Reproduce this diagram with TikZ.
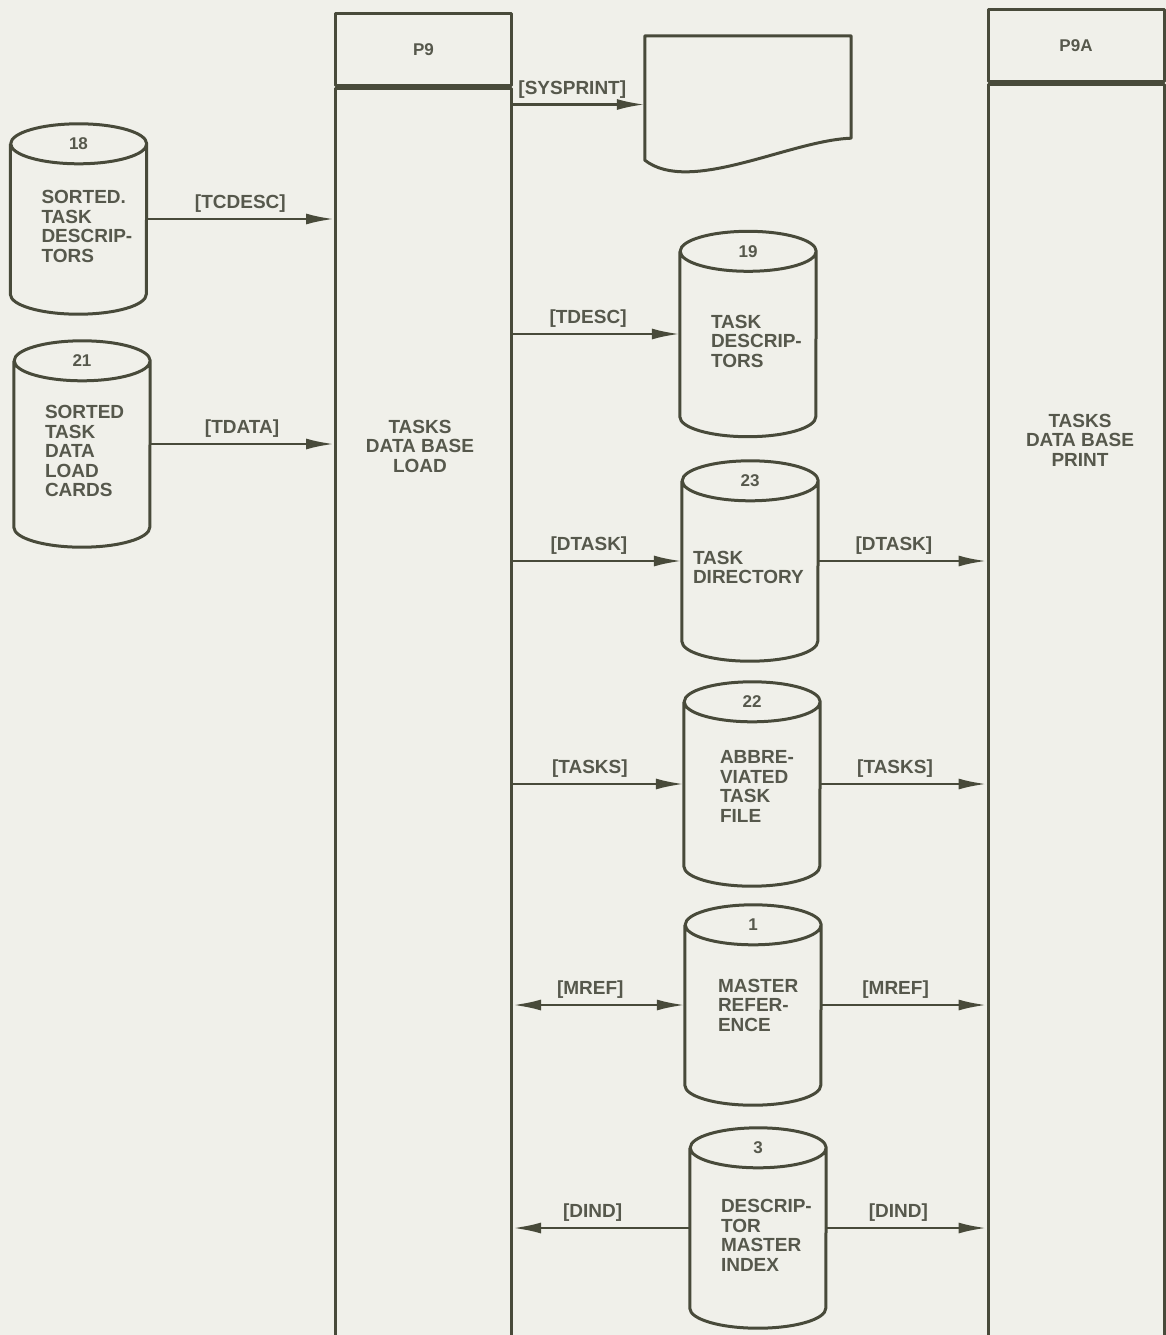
\documentclass[tikz,border=0pt]{standalone}
\usepackage{fontspec}
\setmainfont{Liberation Sans}
\usetikzlibrary{arrows.meta}

\definecolor{ink}{RGB}{72,74,58}
\definecolor{letter}{RGB}{86,88,76}
\definecolor{paper}{RGB}{240,240,234}
\exhyphenpenalty=10000

\begin{document}
\begin{tikzpicture}[
  x=1pt, y=-1pt,
  >={Latex[length=28pt,width=11pt]},
  wire/.style={draw=ink,line width=3pt,line join=round},
  arr/.style={->,draw=ink,line width=2.6pt},
  twoway/.style={<->,draw=ink,line width=2.6pt},
  head/.style={rectangle,wire,minimum width=176pt,minimum height=72pt,inner sep=0pt,text=letter,font=\bfseries\fontsize{17}{19}\selectfont},
  body/.style={rectangle,wire,minimum width=176pt,inner sep=0pt,anchor=north},
  title/.style={align=center,inner sep=0pt,text=letter,font=\bfseries\fontsize{19}{19.5}\selectfont},
  store/.style={rectangle,minimum width=136pt,text width=74pt,text height=28pt,align=left,inner sep=0pt,text=letter,font=\bfseries\fontsize{19}{19.5}\selectfont},
  num/.style={inner sep=0pt,text=letter,font=\bfseries\fontsize{17}{19}\selectfont},
  lbl/.style={above=5pt,pos=0.45,inner sep=0pt,text=letter,font=\bfseries\fontsize{19}{19}\selectfont}
]
\useasboundingbox[fill=paper] (0,0) rectangle (1166,1335);

% programs
\node[head] (p9) at (423.5,50) {P9};
\node[body,minimum height=1260pt] (load) at (p9.south) {};
\node[title] (loadtxt) at (420,446) {TASKS\\DATA BASE\\LOAD};
\node[head] (p9a) at (1076,46) {P9A};
\node[body,minimum height=1265pt] (print) at (p9a.south) {};
\node[title] (printtxt) at (1080,440) {TASKS\\DATA BASE\\PRINT};

% files
\node[store,minimum height=190pt] (s18) at (78.5,219) {SORTED.\\TASK\\DESCRIP-\\TORS};
\node[store,minimum height=206pt] (s21) at (82,444) {SORTED\\TASK\\DATA\\LOAD\\CARDS};
\node[store,minimum height=205pt] (s19) at (748,334) {TASK\\DESCRIP-\\TORS};
\node[store,minimum height=200pt,text width=114pt,text height=26pt] (s23) at (750,561) {TASK\\DIRECTORY};
\node[store,minimum height=204pt,text height=18pt,text width=64pt] (s22) at (752,784) {ABBRE-\\VIATED\\TASK\\FILE};
\node[store,minimum height=200pt,text height=14pt,text width=70pt] (s1) at (753,1005) {MASTER\\REFER-\\ENCE};
\node[store,minimum height=200pt] (s3) at (758,1228) {DESCRIP-\\TOR\\MASTER\\INDEX};
\foreach \n/\t in {s18/18,s21/21,s19/19,s23/23,s22/22,s1/1,s3/3}
  \node[num] (n\t) at ([yshift=-20pt]\n.north) {\t};
\foreach \n in {s18,s21,s19,s23,s22,s1,s3}
  \draw[wire] ([yshift=-20pt]\n.north west) -- ([yshift=20pt]\n.south west)
    arc[start angle=180,end angle=360,x radius=68pt,y radius=20pt]
    -- ([yshift=-20pt]\n.north east)
    arc[start angle=0,end angle=180,x radius=68pt,y radius=20pt]
    arc[start angle=180,end angle=360,x radius=68pt,y radius=20pt];

% printout
\node[rectangle,minimum width=206pt,minimum height=137pt,inner sep=0pt] (listing) at (748,104.5) {};
\draw[wire] (listing.north west) -- (listing.north east) -- ([yshift=35pt]listing.south east)
  .. controls ([xshift=-61pt,yshift=33pt]listing.south east) and ([xshift=45pt,yshift=-22pt]listing.south west)
  .. ([yshift=13pt]listing.south west) -- cycle;

% flows
\draw[arr] (s18.east) -- node[lbl,pos=0.5] {[TCDESC]} (s18.east -| load.west);
\draw[arr] (s21.east) -- node[lbl,pos=0.5] {[TDATA]} (s21.east -| load.west);
\draw[arr] (listing.west -| load.east) -- node[lbl] {[SYSPRINT]} (listing.west);
\draw[arr] (s19.west -| load.east) -- node[lbl] {[TDESC]} (s19.west);
\draw[arr] (s23.west -| load.east) -- node[lbl] {[DTASK]} (s23.west);
\draw[arr] (s23.east) -- node[lbl] {[DTASK]} (s23.east -| print.west);
\draw[arr] (s22.west -| load.east) -- node[lbl] {[TASKS]} (s22.west);
\draw[arr] (s22.east) -- node[lbl] {[TASKS]} (s22.east -| print.west);
\draw[twoway] (s1.west -| load.east) -- node[lbl] {[MREF]} (s1.west);
\draw[arr] (s1.east) -- node[lbl] {[MREF]} (s1.east -| print.west);
\draw[arr] (s3.west) -- node[lbl,pos=0.55] {[DIND]} (s3.west -| load.east);
\draw[arr] (s3.east) -- node[lbl] {[DIND]} (s3.east -| print.west);
\end{tikzpicture}
\end{document}
